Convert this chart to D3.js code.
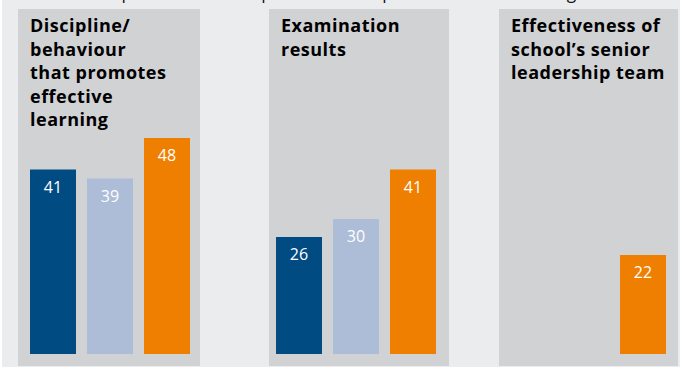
<!DOCTYPE html>
<html>
<head>
<meta charset="utf-8">
<script src="https://cdn.jsdelivr.net/npm/d3@7"></script>
<style>
  html, body { margin: 0; padding: 0; background: #ffffff; }
  svg { display: block; }
</style>
</head>
<body>
<svg id="chart" width="681" height="369"></svg>
<script>
// ---- data ----
const categories = [
  ["Discipline/", "behaviour", "that promotes", "effective", "learning"],
  ["Examination", "results"],
  ["Effectiveness of", "school\u2019s senior", "leadership team"]
];
const seriesNames = ["Series 1", "Series 2", "Series 3"];
const series1 = [41, 26, null];
const series2 = [39, 30, null];
const series3 = [48, 41, 22];
const headerText = "Share who report a marked improvement in specific areas of teaching";

// ---- layout / style ----
const colors = ["#004b82", "#adbcd7", "#ef7f00"];
const panelLeft = [18, 269, 499];
const panelRight = [200, 449, 678];
const barStart = [30, 276, 506];
const panelTop = 9, panelBottom = 366;
const baseY = 354;

const svg = d3.select("#chart");
svg.append("rect").attr("x", 2).attr("y", 0).attr("width", 678).attr("height", 367).attr("fill", "#ebeced");

svg.append("text")
  .attr("x", 15).attr("y", -1.5)
  .attr("font-family", "Open Sans, sans-serif").attr("font-size", 17.3)
  .attr("fill", "#111").text(headerText);

const y = d3.scaleLinear().domain([0, 48]).range([baseY, baseY - 216]);
const valuesBySeries = [series1, series2, series3];

categories.forEach((lines, i) => {
  const g = svg.append("g");
  g.append("rect")
    .attr("x", panelLeft[i]).attr("y", panelTop)
    .attr("width", panelRight[i] - panelLeft[i]).attr("height", panelBottom - panelTop)
    .attr("fill", "#d1d2d4");

  const t = g.append("text")
    .attr("font-family", "Open Sans, sans-serif").attr("font-weight", 700)
    .attr("font-size", 18).attr("letter-spacing", 0.5).attr("fill", "#000");
  lines.forEach((ln, j) => {
    t.append("tspan").attr("x", panelLeft[i] + 12).attr("y", 32 + j * 23.5).text(ln);
  });

  const x = d3.scaleBand().domain(seriesNames)
    .range([barStart[i], barStart[i] + 160]).paddingInner(0.193).paddingOuter(0);

  const data = seriesNames.map((s, k) => ({ s, k, v: valuesBySeries[k][i] })).filter(d => d.v != null);
  g.selectAll("rect.bar").data(data).enter().append("rect")
    .attr("class", "bar")
    .attr("x", d => x(d.s)).attr("width", x.bandwidth())
    .attr("y", d => y(d.v)).attr("height", d => y(0) - y(d.v))
    .attr("fill", d => colors[d.k]);
  g.selectAll("text.lbl").data(data).enter().append("text")
    .attr("class", "lbl")
    .attr("x", d => x(d.s) + x.bandwidth() / 2)
    .attr("y", d => y(d.v) + 23)
    .attr("text-anchor", "middle")
    .attr("font-family", "Open Sans, sans-serif").attr("font-size", 16)
    .attr("fill", "#ffffff").text(d => d.v);
});
</script>
</body>
</html>
